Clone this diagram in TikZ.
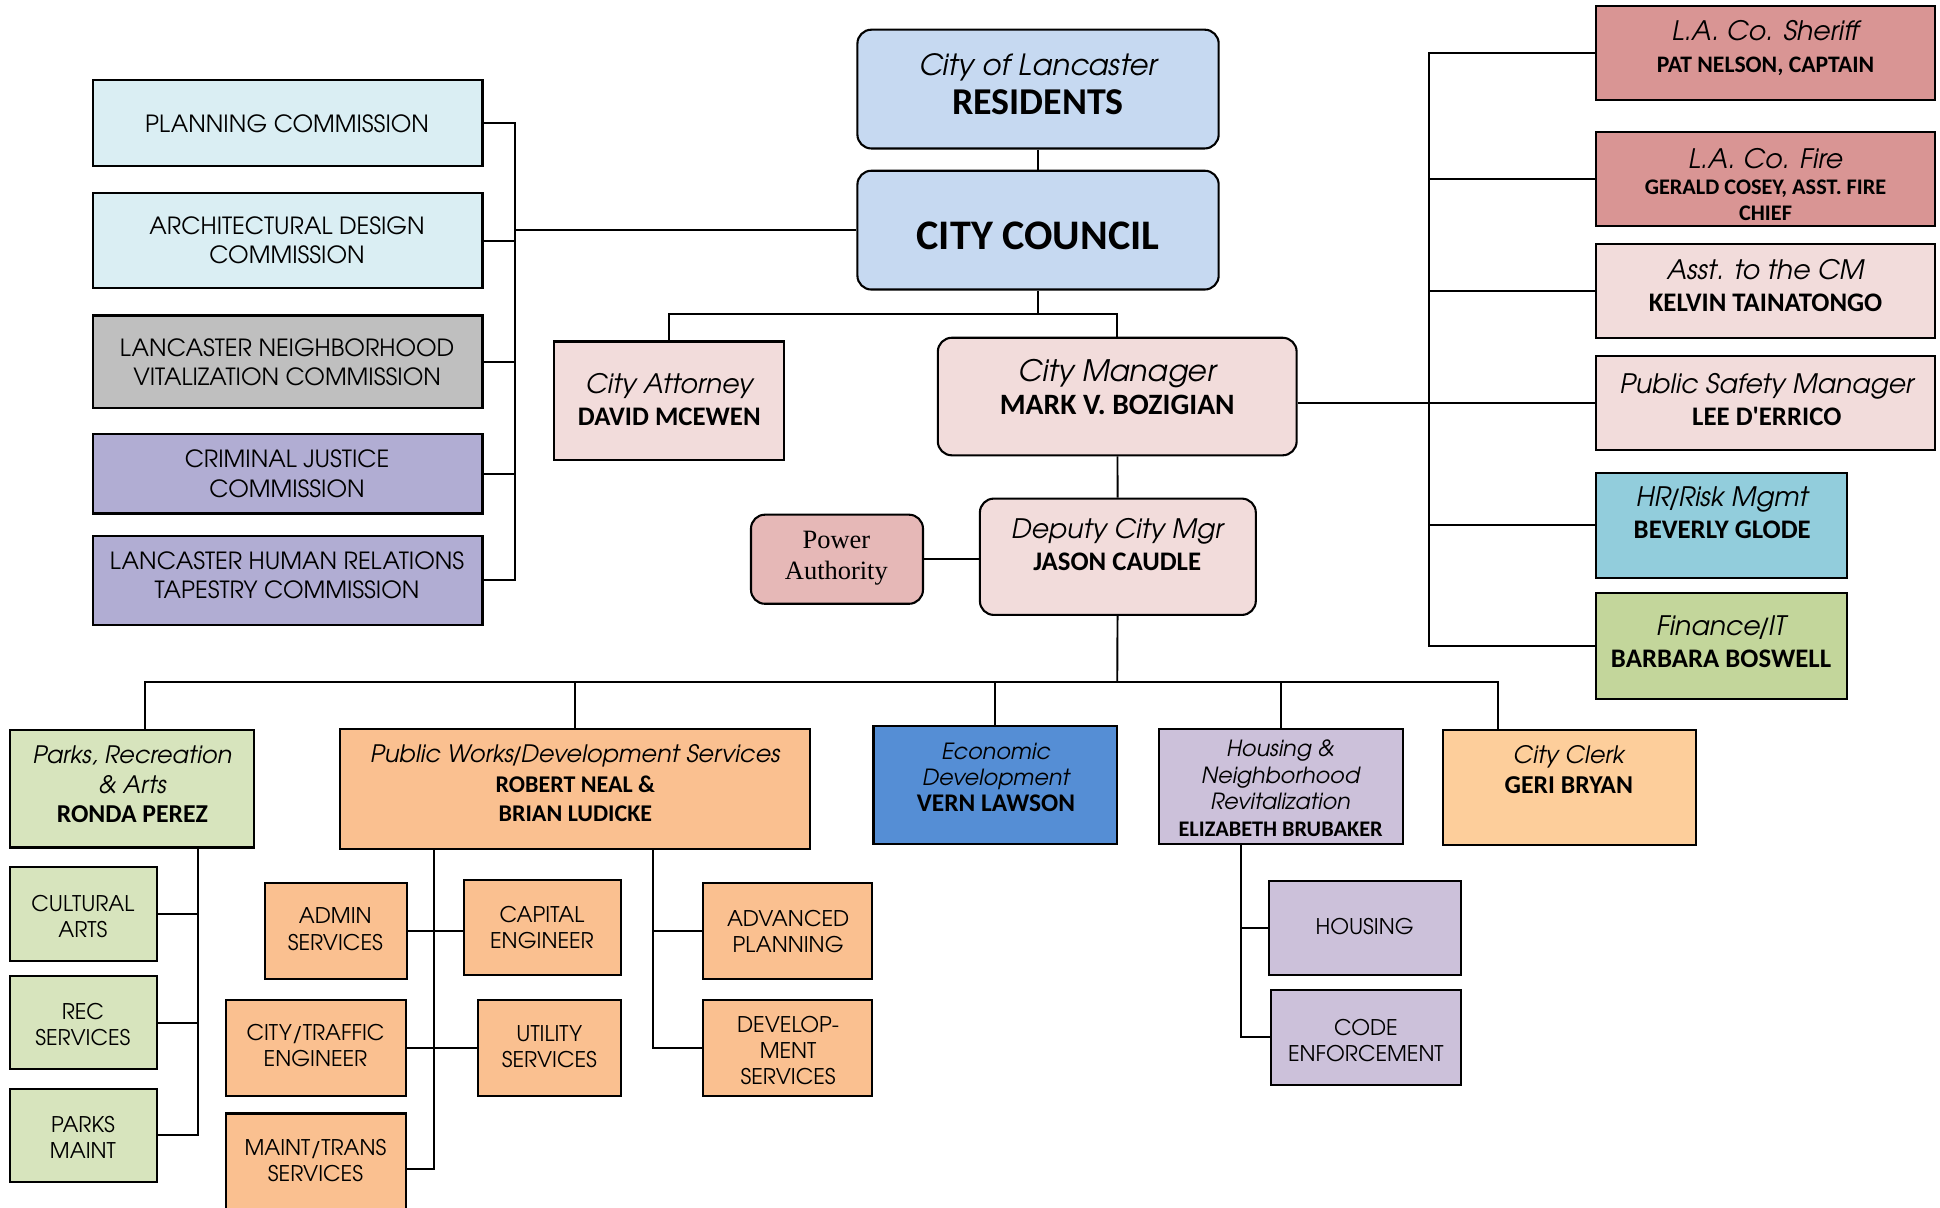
\documentclass[tikz,border=0pt]{standalone}
\usepackage{fontspec}
\setmainfont{texgyreadventor}[Extension=.otf, UprightFont=*-regular, ItalicFont=*-italic, BoldFont=*-bold, BoldItalicFont=*-bolditalic]
\newfontfamily\namefont{Carlito}
\newfontfamily\timesfont{Liberation Serif}
\usetikzlibrary{fit}

\definecolor{comblue}{RGB}{218,238,243}
\definecolor{comgray}{RGB}{191,191,191}
\definecolor{compurple}{RGB}{177,173,211}
\definecolor{topblue}{RGB}{198,217,241}
\definecolor{mgrpink}{RGB}{242,220,219}
\definecolor{lapink}{RGB}{217,149,148}
\definecolor{powpink}{RGB}{230,184,183}
\definecolor{hrblue}{RGB}{146,205,220}
\definecolor{fingreen}{RGB}{195,214,155}
\definecolor{parkgreen}{RGB}{215,228,189}
\definecolor{pworange}{RGB}{250,192,144}
\definecolor{econblue}{RGB}{85,142,213}
\definecolor{houslilac}{RGB}{204,193,218}
\definecolor{clerkorange}{RGB}{253,206,155}

\newcommand{\orgtitle}[1]{{\itshape #1}}
\newcommand{\orgname}[1]{{\namefont\bfseries #1}}

\tikzset{
  box/.style={draw, line width=0.6pt, inner sep=0pt},
  rbox/.style={box, rounded corners=4pt},
  link/.style={line width=0.55pt},
  txt/.style={align=center, inner sep=0pt},
  comtxt/.style={txt, font=\fontsize{6.8}{8.4}\selectfont},
  mgrtxt/.style={txt, font=\fontsize{7.7}{9.2}\selectfont},
  depttxt/.style={txt, font=\fontsize{6.9}{8.4}\selectfont},
  subtxt/.style={txt, font=\fontsize{6.2}{7.5}\selectfont}
}

\begin{document}
\begin{tikzpicture}[x=0.0125cm, y=-0.0125cm]
\useasboundingbox (0,0) rectangle (1568,976);

% commissions
\node[box, fill=comblue, fit={(75,65) (390,134)}] (plan) {};
\node[comtxt] (plan-t) at (232,100) {PLANNING COMMISSION};
\node[box, fill=comblue, fit={(75,156) (390,233)}] (arch) {};
\node[comtxt] (arch-t) at (232,194) {ARCHITECTURAL DESIGN\\COMMISSION};
\node[box, fill=comgray, fit={(75,255) (390,330)}] (lnvc) {};
\node[comtxt] (lnvc-t) at (232,293) {LANCASTER NEIGHBORHOOD\\VITALIZATION COMMISSION};
\node[box, fill=compurple, fit={(75,351) (390,415)}] (cjc) {};
\node[comtxt] (cjc-t) at (232,383) {CRIMINAL JUSTICE\\COMMISSION};
\node[box, fill=compurple, fit={(75,433) (390,505)}] (lhrtc) {};
\node[comtxt] (lhrtc-t) at (232,465) {LANCASTER HUMAN RELATIONS\\TAPESTRY COMMISSION};

% residents and council
\node[rbox, fill=topblue, fit={(693,24) (985,120)}] (res) {};
\node[txt, font=\fontsize{8.4}{11.4}\selectfont] (res-t) at (839,68)
  {\orgtitle{City of Lancaster}\\{\fontsize{10.9}{12}\selectfont\orgname{RESIDENTS}}};
\node[rbox, fill=topblue, fit={(693,138) (985,234)}] (council) {};
\node[txt, font=\fontsize{12.1}{14}\selectfont] (council-t) at (839,191) {\orgname{CITY COUNCIL}};

% attorney, manager, deputy
\node[box, fill=mgrpink, fit={(448,276) (634,372)}] (ca) {};
\node[mgrtxt] (ca-t) at (541,323) {\orgtitle{City Attorney}\\\orgname{DAVID MCEWEN}};
\node[rbox, fill=mgrpink, fit={(758,273) (1048,368)}] (cm) {};
\node[txt, font=\fontsize{8.5}{9.6}\selectfont] (cm-t) at (903,313) {\orgtitle{City Manager}\\\orgname{MARK V. BOZIGIAN}};
\node[rbox, fill=mgrpink, fit={(792,403) (1015,497)}] (dep) {};
\node[mgrtxt] (dep-t) at (903,440) {\orgtitle{Deputy City Mgr}\\\orgname{JASON CAUDLE}};
\node[rbox, fill=powpink, fit={(607,416) (746,488)}] (pa) {};
\node[txt, font=\timesfont\fontsize{7.6}{8.9}\selectfont] (pa-t) at (676,451) {Power\\Authority};

% right column
\node[box, fill=lapink, fit={(1290,5) (1564,81)}] (sher) {};
\node[mgrtxt] (sher-t) at (1427,39) {\orgtitle{L.A. Co. Sheriff}\\{\fontsize{6.8}{8}\selectfont\orgname{PAT NELSON, CAPTAIN}}};
\node[box, fill=lapink, fit={(1290,107) (1564,183)}] (fire) {};
\node[txt, font=\fontsize{6.4}{7.4}\selectfont] (fire-t) at (1427,149) {{\fontsize{7.7}{8}\selectfont\orgtitle{L.A. Co. Fire}}\\\orgname{GERALD COSEY, ASST. FIRE}\\\orgname{CHIEF}};
\node[box, fill=mgrpink, fit={(1290,197) (1564,273)}] (asst) {};
\node[mgrtxt] (asst-t) at (1427,231) {\orgtitle{Asst. to the CM}\\\orgname{KELVIN TAINATONGO}};
\node[box, fill=mgrpink, fit={(1290,288) (1564,364)}] (psm) {};
\node[mgrtxt] (psm-t) at (1428,323) {\orgtitle{Public Safety Manager}\\\orgname{LEE D'ERRICO}};
\node[box, fill=hrblue, fit={(1290,382) (1493,467)}] (hr) {};
\node[mgrtxt] (hr-t) at (1392,414) {\orgtitle{HR\kern-0.12em/\kern-0.1emRisk Mgmt}\\\orgname{BEVERLY GLODE}};
\node[box, fill=fingreen, fit={(1290,479) (1493,565)}] (fin) {};
\node[mgrtxt] (fin-t) at (1391,519) {\orgtitle{Finance\kern-0.12em/\kern-0.1emIT}\\\orgname{BARBARA BOSWELL}};

% departments
\node[box, fill=parkgreen, fit={(8,590) (205,685)}] (parks) {};
\node[depttxt] (parks-t) at (107,634) {\orgtitle{Parks, Recreation}\\\orgtitle{\& Arts}\\{\fontsize{7.4}{8}\selectfont\orgname{RONDA PEREZ}}};
\node[box, fill=pworange, fit={(275,589) (655,686)}] (pw) {};
\node[depttxt] (pw-t) at (465,633) {\orgtitle{Public Works\kern-0.12em/\kern-0.1emDevelopment Services}\\\orgname{ROBERT NEAL \&}\\\orgname{BRIAN LUDICKE}};
\node[box, fill=econblue, fit={(706,587) (903,682)}] (econ) {};
\node[txt, font=\fontsize{6.4}{7.5}\selectfont] (econ-t) at (805,628) {\orgtitle{Economic}\\\orgtitle{Development}\\{\fontsize{7.3}{8}\selectfont\orgname{VERN LAWSON}}};
\node[box, fill=houslilac, fit={(937,589) (1134,682)}] (hnr) {};
\node[txt, font=\fontsize{6.4}{7.6}\selectfont] (hnr-t) at (1035,637) {\orgtitle{Housing \&}\\\orgtitle{Neighborhood}\\\orgtitle{Revitalization}\\\orgname{ELIZABETH BRUBAKER}};
\node[box, fill=clerkorange, fit={(1166,590) (1371,683)}] (clerk) {};
\node[depttxt] (clerk-t) at (1268,622) {\orgtitle{City Clerk}\\{\fontsize{7.4}{8}\selectfont\orgname{GERI BRYAN}}};

% parks units
\node[box, fill=parkgreen, fit={(8,701) (127,777)}] (cult) {};
\node[subtxt] (cult-t) at (67,741) {CULTURAL\\ARTS};
\node[box, fill=parkgreen, fit={(8,789) (127,864)}] (rec) {};
\node[subtxt] (rec-t) at (67,828) {REC\\SERVICES};
\node[box, fill=parkgreen, fit={(8,880) (127,955)}] (pmaint) {};
\node[subtxt] (pmaint-t) at (67,919) {PARKS\\MAINT};

% public works units
\node[box, fill=pworange, fit={(214,714) (329,791)}] (admin) {};
\node[subtxt] (admin-t) at (271,751) {ADMIN\\SERVICES};
\node[box, fill=pworange, fit={(375,711) (502,788)}] (cap) {};
\node[subtxt] (cap-t) at (438,750) {CAPITAL\\ENGINEER};
\node[box, fill=pworange, fit={(183,808) (328,886)}] (ct) {};
\node[subtxt] (ct-t) at (255,845) {CITY/TRAFFIC\\ENGINEER};
\node[box, fill=pworange, fit={(386,808) (502,886)}] (util) {};
\node[subtxt] (util-t) at (444,846) {UTILITY\\SERVICES};
\node[box, fill=pworange, fit={(183,900) (328,990)}] (mt) {};
\node[subtxt] (mt-t) at (255,938) {MAINT/TRANS\\SERVICES};
\node[box, fill=pworange, fit={(568,714) (705,791)}] (adv) {};
\node[subtxt] (adv-t) at (637,753) {ADVANCED\\PLANNING};
\node[box, fill=pworange, fit={(568,808) (705,886)}] (dev) {};
\node[subtxt] (dev-t) at (637,849) {DEVELOP-\\MENT\\SERVICES};

% housing units
\node[box, fill=houslilac, fit={(1026,712) (1181,788)}] (hous) {};
\node[subtxt] (hous-t) at (1103,749) {HOUSING};
\node[box, fill=houslilac, fit={(1027,800) (1181,877)}] (code) {};
\node[subtxt] (code-t) at (1104,841) {CODE\\ENFORCEMENT};

% connectors
\coordinate (lb) at (416,186);
\draw[link] (plan) -| (lb) -- (council);
\draw[link] (arch) -| (lb);
\draw[link] (lnvc) -| (lb);
\draw[link] (cjc) -| (lb);
\draw[link] (lhrtc) -| (lb);
\draw[link] (res) -- (council);
\coordinate (cb) at (839,254);
\draw[link] (council) -- (cb);
\draw[link] (ca) |- (cb) -| (cm);
\coordinate (rb) at (1155,326);
\draw[link] (cm.east |- psm.west) -- (psm.west);
\draw[link] (sher) -| (rb);
\draw[link] (fire) -| (rb);
\draw[link] (asst) -| (rb);
\draw[link] (hr) -| (rb);
\draw[link] (fin) -| (rb);
\draw[link] (cm) -- (dep);
\draw[link] (pa.east) -- (pa.east -| dep.west);
\coordinate (db) at (903,551);
\coordinate (pk) at (117,590);
\coordinate (ck) at (1211,590);
\draw[link] (dep) -- (db);
\draw[link] (pk) |- (db) -| (ck);
\draw[link] (pw) -- (pw |- db);
\draw[link] (econ) -- (econ |- db);
\draw[link] (hnr) -- (hnr |- db);
\coordinate (pkb) at (160,685);
\draw[link] (pkb) |- (pmaint);
\draw[link] (cult) -| (pkb);
\draw[link] (rec) -| (pkb);
\coordinate (pwb) at (351,686);
\draw[link] (pwb) |- (mt);
\draw[link] (admin) -- (admin -| cap.west);
\draw[link] (ct) -- (ct -| util.west);
\coordinate (pwc) at (528,686);
\draw[link] (pwc) |- (dev);
\draw[link] (adv) -| (pwc);
\coordinate (hb) at (1003,682);
\draw[link] (hb) |- (code);
\draw[link] (hous) -| (hb);
\end{tikzpicture}
\end{document}
